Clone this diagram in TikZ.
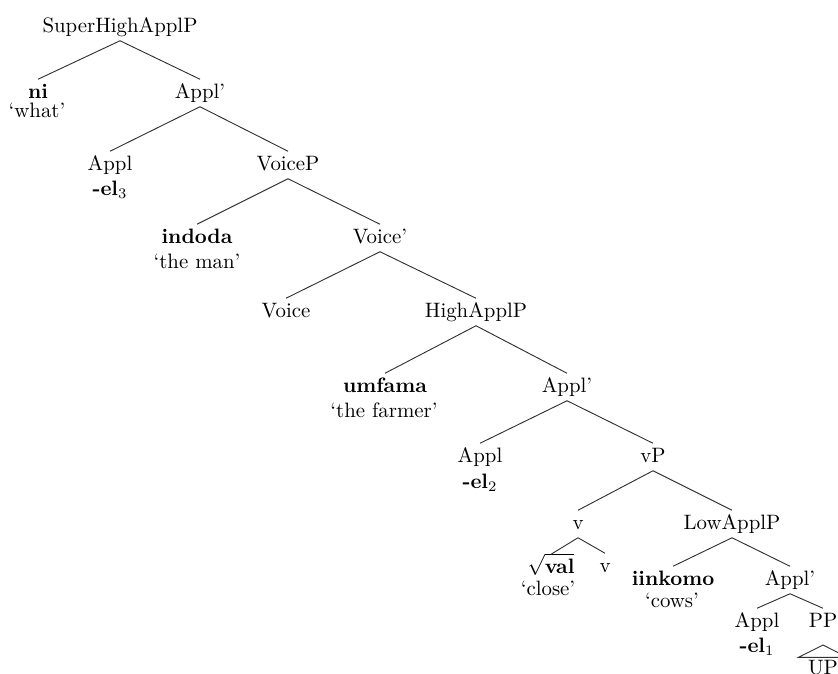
\documentclass[tikz,border=0pt]{standalone}
\begin{document}
\begin{tikzpicture}[x=0.48pt,y=-0.48pt,
  lbl/.style={anchor=base, inner xsep=1pt, inner ysep=2pt, text height=6.8pt, text depth=2pt},
  gl/.style={anchor=base, inner sep=0pt},
  edge/.style={draw=black!80, line width=0.45pt}]
\useasboundingbox (0,0) rectangle (838,673);
\node[lbl] (shap) at (120,32) {SuperHighApplP};
\node[lbl] (ni) at (38,98) {\textbf{ni}};
\node[gl] (niG) at (37,117) {`what'};
\node[lbl] (applA) at (200,98) {Appl'};
\node[lbl] (applB) at (110,170) {Appl};
\node[gl] (applBG) at (110,195) {\textbf{-el}$_3$};
\node[lbl] (voiceP) at (288,170) {VoiceP};
\node[lbl] (indoda) at (197,243) {\textbf{indoda}};
\node[gl] (indodaG) at (197,268) {`the man'};
\node[lbl] (voiceB) at (380,243) {Voice'};
\node[lbl] (voice) at (286,317) {Voice};
\node[lbl] (highP) at (476,317) {HighApplP};
\node[lbl] (umfama) at (385,392) {\textbf{umfama}};
\node[gl] (umfamaG) at (384,417) {`the farmer'};
\node[lbl] (applC) at (567,392) {Appl'};
\node[lbl] (applD) at (480,462) {Appl};
\node[gl] (applDG) at (480,488) {\textbf{-el}$_2$};
\node[lbl] (vP) at (653,462) {vP};
\node[lbl] (v) at (578,529) {v};
\node[lbl] (lowP) at (732,529) {LowApplP};
\node[lbl] (val) at (551,573) {$\sqrt{\textbf{val}}$};
\node[gl] (valG) at (548,595) {`close'};
\node[lbl] (vb) at (605,572) {v};
\node[lbl] (iinkomo) at (673,585) {\textbf{iinkomo}};
\node[gl] (iinkomoG) at (672,607) {`cows'};
\node[lbl] (applE) at (790,585) {Appl'};
\node[lbl] (applF) at (757,627) {Appl};
\node[gl] (applFG) at (757,652) {\textbf{-el}$_1$};
\node[lbl] (pp) at (823,627) {PP};
\node[lbl, inner xsep=4.4pt, inner ysep=1pt] (up) at (823,674) {UP};
\coordinate (roof) at (823,645);
\foreach \a/\b in {shap/ni, shap/applA, applA/applB, applA/voiceP, voiceP/indoda,
  voiceP/voiceB, voiceB/voice, voiceB/highP, highP/umfama, highP/applC,
  applC/applD, applC/vP, vP/v, vP/lowP, v/val, v/vb, lowP/iinkomo, lowP/applE,
  applE/applF, applE/pp}
  \draw[edge] (\a.south) -- (\b.north);
\draw[edge] (roof) -- (up.north west) -- (up.north east) -- cycle;
\end{tikzpicture}
\end{document}
